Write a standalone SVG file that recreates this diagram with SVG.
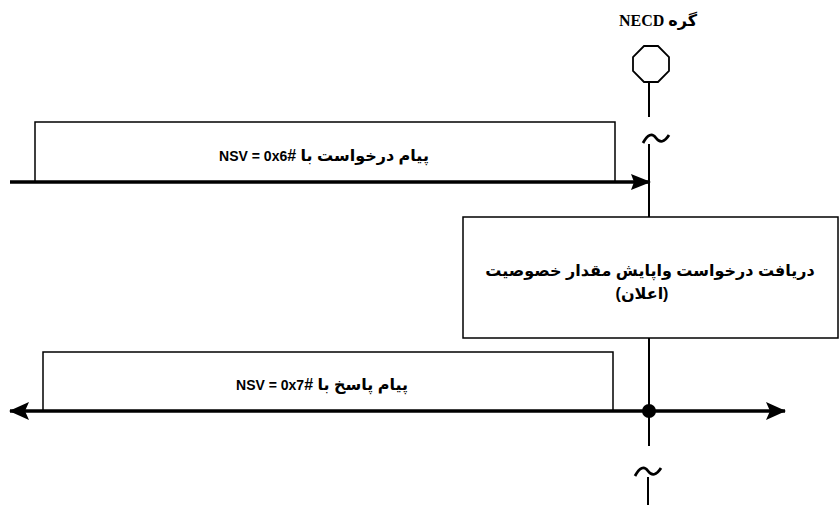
<svg xmlns="http://www.w3.org/2000/svg" width="839" height="505" viewBox="0 0 839 505">
<style>
.box{fill:#fff;stroke:#000;stroke-width:1.5}
.ln{stroke:#000;stroke-width:2;fill:none}
.msg{stroke:#000;stroke-width:3.5;fill:none}
.t{font-family:"Liberation Sans","DejaVu Sans",sans-serif;font-weight:bold;font-size:16px;fill:#000;text-anchor:middle}
.lat{font-size:14px}
.title{font-family:"Liberation Serif","DejaVu Serif","DejaVu Sans",serif;font-weight:bold;font-size:16px;fill:#000;text-anchor:middle}
.tl{stroke:#000;stroke-width:2.8;fill:none}
</style>
<defs>
<marker id="ah" markerWidth="20" markerHeight="18" refX="19" refY="9" orient="auto-start-reverse" markerUnits="userSpaceOnUse" viewBox="0 0 20 18">
<path d="M0,0 L20,9 L0,18 L4,9 Z" fill="#000"/>
</marker>
<marker id="ah1" markerWidth="20" markerHeight="16" refX="19" refY="8" orient="auto" markerUnits="userSpaceOnUse" viewBox="0 0 20 16">
<path d="M0,0 L20,8 L0,16 L3,8 Z" fill="#000"/>
</marker>
</defs>
<rect width="839" height="505" fill="#fff"/>

<g id="lifeline">
<text class="title" x="658" y="26" direction="rtl">گره NECD</text>
<polygon points="644,46 658,46 669,57 669,71 658,82 644,82 633,71 633,57" fill="#fff" stroke="#000" stroke-width="1.8"/>
<line class="ln" x1="649" y1="82" x2="649" y2="117"/>
<path class="tl" d="M643,143 Q650,130 656,138 T669,135"/>
<line class="ln" x1="649" y1="144" x2="649" y2="217"/>
<line class="ln" x1="649" y1="338" x2="649" y2="446"/>
<path class="tl" d="M635,476 Q642,463 648,471 T661,468"/>
<line class="ln" x1="648" y1="477" x2="648" y2="505"/>
</g>

<g id="msg-request">
<polyline class="box" points="35,181 35,122 615,122 615,181" fill="none"/>
<text class="t" x="324" y="161" direction="rtl">پیام درخواست با #<tspan class="lat">NSV = 0x6</tspan></text>
</g>

<g id="process">
<rect class="box" x="463" y="217" width="375" height="121"/>
<text class="t" x="650" y="276" direction="rtl">دریافت درخواست واپایش مقدار خصوصیت</text>
<text class="t" x="642" y="299" direction="rtl">(اعلان)</text>
</g>

<g id="msg-response">
<polyline class="box" points="43,411 43,352 613,352 613,411" fill="none"/>
<text class="t" x="322" y="390" direction="rtl">پیام پاسخ با #<tspan class="lat">NSV = 0x7</tspan></text>
</g>

<g id="connectors">
<line class="msg" x1="10" y1="182" x2="650" y2="182" marker-end="url(#ah1)"/>
<line class="msg" x1="10" y1="411" x2="785" y2="411" marker-start="url(#ah)" marker-end="url(#ah)"/>
<circle cx="649" cy="411" r="7" fill="#000"/>
</g>
</svg>
